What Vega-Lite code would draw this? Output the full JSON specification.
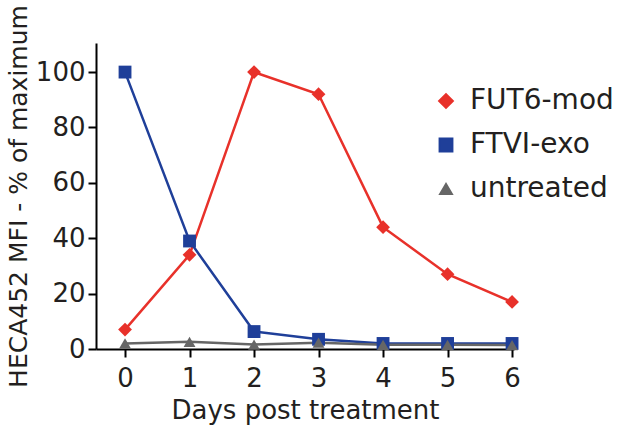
{
  "$schema": "https://vega.github.io/schema/vega-lite/v6.json",
  "width": 418,
  "height": 306,
  "autosize": "none",
  "padding": {"left": 96, "top": 43, "right": 107, "bottom": 88},
  "background": "white",
  "config": {
    "font": "DejaVu Sans",
    "view": {"stroke": null},
    "axis": {"grid": false, "domainColor": "black", "tickColor": "black", "domainWidth": 2, "tickWidth": 2, "labelColor": "#231f20", "titleColor": "#231f20", "labelFont": "DejaVu Sans", "titleFont": "DejaVu Sans", "titleFontWeight": "normal"},
    "legend": {"labelFont": "DejaVu Sans"}
  },
  "data": {
    "values": [
      {"day": 0, "group": "FUT6-mod", "value": 7},
      {"day": 1, "group": "FUT6-mod", "value": 34},
      {"day": 2, "group": "FUT6-mod", "value": 100},
      {"day": 3, "group": "FUT6-mod", "value": 92},
      {"day": 4, "group": "FUT6-mod", "value": 44},
      {"day": 5, "group": "FUT6-mod", "value": 27},
      {"day": 6, "group": "FUT6-mod", "value": 17},
      {"day": 0, "group": "FTVI-exo", "value": 100},
      {"day": 1, "group": "FTVI-exo", "value": 39},
      {"day": 2, "group": "FTVI-exo", "value": 6.3},
      {"day": 3, "group": "FTVI-exo", "value": 3.5},
      {"day": 4, "group": "FTVI-exo", "value": 2},
      {"day": 5, "group": "FTVI-exo", "value": 2},
      {"day": 6, "group": "FTVI-exo", "value": 2},
      {"day": 0, "group": "untreated", "value": 2},
      {"day": 1, "group": "untreated", "value": 2.6},
      {"day": 2, "group": "untreated", "value": 1.6},
      {"day": 3, "group": "untreated", "value": 2.3},
      {"day": 4, "group": "untreated", "value": 1.5},
      {"day": 5, "group": "untreated", "value": 1.5},
      {"day": 6, "group": "untreated", "value": 1.4}
    ]
  },
  "encoding": {
    "x": {
      "field": "day", "type": "quantitative",
      "scale": {"domain": [-0.45, 6.03], "nice": false, "zero": false},
      "axis": {"values": [0, 1, 2, 3, 4, 5, 6], "title": "Days post treatment", "labelFontSize": 26, "titleFontSize": 26, "tickSize": 8, "labelPadding": 8, "titlePadding": 6}
    },
    "y": {
      "field": "value", "type": "quantitative",
      "scale": {"domain": [0, 110.5], "nice": false},
      "axis": {"values": [0, 20, 40, 60, 80, 100], "title": "HECA452 MFI - % of maximum", "labelFontSize": 26, "titleFontSize": 25, "tickSize": 8, "labelPadding": 3, "titlePadding": 4}
    },
    "color": {
      "field": "group", "type": "nominal",
      "scale": {"domain": ["FUT6-mod", "FTVI-exo", "untreated"], "range": ["#e8312a", "#1f3f99", "#666666"]},
      "legend": {
        "title": null, "orient": "none", "legendX": 336, "legendY": 44,
        "labelFontSize": 28, "labelColor": "#231f20", "rowPadding": 16,
        "symbolSize": 150, "symbolStrokeWidth": 2, "labelOffset": 10
      }
    }
  },
  "layer": [
    {"mark": {"type": "line", "strokeWidth": 2.5}},
    {
      "mark": {"type": "point", "filled": true, "opacity": 1},
      "encoding": {
        "shape": {
          "field": "group", "type": "nominal",
          "scale": {"domain": ["FUT6-mod", "FTVI-exo", "untreated"], "range": ["diamond", "square", "triangle-up"]},
          "legend": null
        },
        "size": {
          "field": "group", "type": "nominal",
          "scale": {"domain": ["FUT6-mod", "FTVI-exo", "untreated"], "range": [190, 140, 60]},
          "legend": null
        }
      }
    }
  ]
}
